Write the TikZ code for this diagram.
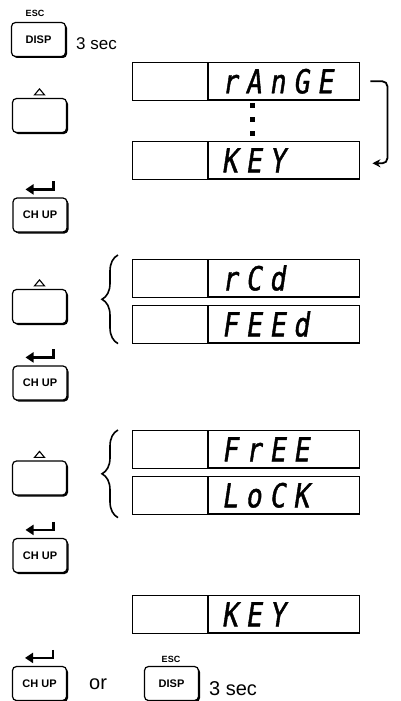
\documentclass[tikz,border=0pt]{standalone}
\usepackage{fontspec}
\setmainfont{Liberation Sans}
\newfontfamily\segfont[FakeSlant=0.15,FakeStretch=0.8,FakeBold=1.2,LetterSpace=24]{DejaVu Sans Mono}
\usetikzlibrary{arrows.meta,positioning,calc,shadows,decorations.pathreplacing}

\begin{document}
\begin{tikzpicture}[x=1pt,y=-1pt,
  keybox/.style={draw,fill=white,rounded corners=4pt,line width=1.2pt,minimum width=54pt,minimum height=34pt,inner sep=0pt,font=\fontsize{11}{13}\selectfont\bfseries,drop shadow={shadow xshift=1.5pt,shadow yshift=-1.5pt,fill=black,opacity=1}},
  esclabel/.style={font=\fontsize{9}{11}\selectfont\bfseries,inner sep=0pt},
  dispL/.style={draw,line width=1.1pt,minimum width=75pt,minimum height=37.5pt,anchor=north west,inner sep=0pt},
  dispR/.style={draw,line width=1.3pt,minimum width=151pt,minimum height=37.5pt,text width=125pt,align=left,inner xsep=13pt,inner ysep=0pt,text height=24pt,text depth=0pt,font=\segfont\fontsize{33}{33}\selectfont},
  enter/.style={line width=2.6pt,-{Triangle[length=8pt,width=10pt]}},
  secs/.style={font=\fontsize{17}{20}\selectfont,anchor=base west,inner sep=0pt}]
\useasboundingbox (0,0) rectangle (401,701);
% keys on the left
\node[keybox] (disp1) at (38.5,39.5) {DISP};
\node[esclabel] (esc1) at (35,13) {ESC};
\node[secs] (sec1) at (76,50) {3 sec};
\node[keybox] (up1) at (39.5,115.5) {};
\node[keybox] (ch1) at (40,215) {CH UP};
\node[keybox] (up2) at (39.5,306.5) {};
\node[keybox] (ch2) at (40,383) {CH UP};
\node[keybox] (up3) at (39.5,478) {};
\node[keybox] (ch3) at (40,555.5) {CH UP};
\node[keybox] (ch4) at (39.5,683.5) {CH UP};
\node[secs,font=\fontsize{20}{24}\selectfont] (or) at (89,689) {or};
\node[keybox] (disp2) at (171.5,683.5) {DISP};
\node[esclabel] (esc2) at (171,659) {ESC};
\node[secs,font=\fontsize{20}{24}\selectfont] (sec2) at (209,695) {3 sec};
\foreach \k in {up1,up2,up3}{\draw[line width=1.1pt] ($(\k.north)+(-5,-3)$) -- ++(10,0) -- ++(-5,-6) -- cycle;}
\foreach \k in {ch1,ch2,ch3,ch4}{\draw[enter] ($(\k.north)+(13.5,-16)$) |- ($(\k.north)+(-14.5,-8)$);}
% displays
\foreach \nm/\y/\txt in {rg/62/rAnGE,ky1/141/KEY,rc/259/rCd,fd/305/FEEd,fr/430/FrEE,lk/476/LoCK,ky2/595/KEY}{
  \node[dispL] (\nm-l) at (132,\y) {};
  \node[dispR,right=0pt of \nm-l] (\nm) {\txt};}
\foreach \y in {105,119,133}{\fill (250,\y-2) rectangle ++(4.5,4.5);}
\draw[line width=1.8pt,rounded corners=5pt,-{Stealth[length=8pt,width=8pt]}] ($(rg.east)+(10,0)$) -- ++(17,0) |- ($(ky1.east)+(12,3)$);
\draw[line width=1.6pt,decorate,decoration={brace,amplitude=16pt}] ($(fd-l.south west)+(-14,0)$) -- ($(rc-l.north west)+(-14,-4)$);
\draw[line width=1.6pt,decorate,decoration={brace,amplitude=16pt}] ($(lk-l.south west)+(-14,3)$) -- ($(fr-l.north west)+(-14,0)$);
\end{tikzpicture}
\end{document}
